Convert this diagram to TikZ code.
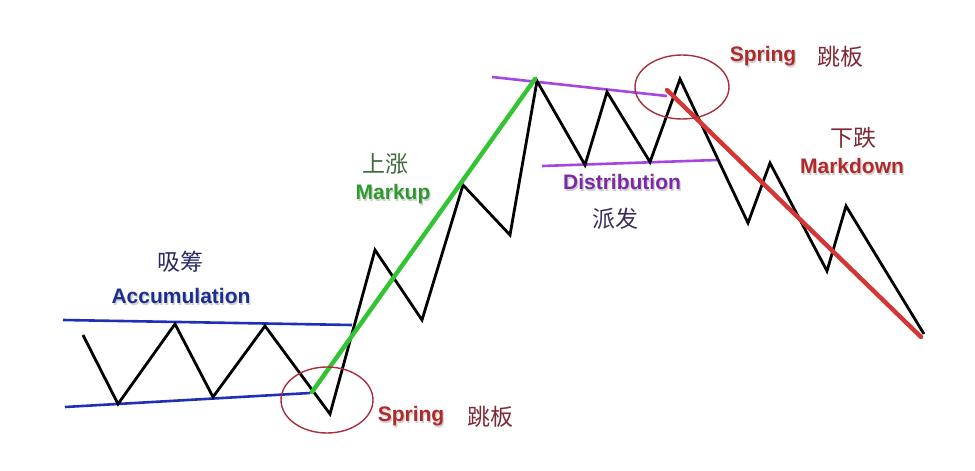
\documentclass[tikz,border=0pt]{standalone}
\usepackage{fontspec}
\setmainfont{Liberation Sans}
\newfontfamily\cjk{Noto Sans CJK SC}
\definecolor{accblue}{HTML}{1C2F8F}
\definecolor{lineblue}{HTML}{1F2FB8}
\definecolor{mkgreen}{HTML}{2E9A2E}
\definecolor{linegreen}{HTML}{33C433}
\definecolor{dpurple}{HTML}{7B2AA6}
\definecolor{linepurple}{HTML}{A645E0}
\definecolor{dred}{HTML}{B02A2A}
\definecolor{linered}{HTML}{D43535}
\definecolor{circred}{HTML}{A8303C}
\definecolor{cjkblue}{HTML}{2A2A66}
\definecolor{cjkgreen}{HTML}{3E6A3E}
\definecolor{cjkpurple}{HTML}{3E2E5E}
\definecolor{cjkred}{HTML}{7E2A36}
\newcommand{\shadtxt}[1]{\makebox[0pt][l]{\hspace{1.3pt}\raisebox{-1.3pt}{\color{black!18}#1}}#1}
\begin{document}
\begin{tikzpicture}[x=1pt,y=-1pt,
  price/.style={draw=black,line width=2.8pt,line join=miter},
  trend/.style={line width=4.4pt,line cap=round},
  chan/.style={line width=2.6pt},
  ring/.style={draw=circred,line width=1.4pt},
  en/.style={font=\fontsize{21}{21}\selectfont\bfseries,inner sep=0pt},
  zh/.style={font=\cjk\fontsize{23}{23}\selectfont,inner sep=0pt}]
\useasboundingbox (0,0) rectangle (975,471);
\fill[white] (0,0) rectangle (975,471);
% price path coordinates
\coordinate (p0) at (83,335);
\coordinate (p1) at (118,404);
\coordinate (p2) at (175,324);
\coordinate (p3) at (213,397);
\coordinate (p4) at (265,326);
\coordinate (p5) at (330,414);
\coordinate (p6) at (375,250);
\coordinate (p7) at (422,320);
\coordinate (p8) at (463,185);
\coordinate (p9) at (510,235);
\coordinate (p10) at (537,81);
\coordinate (p11) at (585,165);
\coordinate (p12) at (607,92);
\coordinate (p13) at (650,162);
\coordinate (p14) at (680,79);
\coordinate (p15) at (748,223);
\coordinate (p16) at (770,163);
\coordinate (p17) at (827,271);
\coordinate (p18) at (846,206);
\coordinate (p19) at (924,334);
% channel and trend end points
\coordinate (at1) at (63,320);
\coordinate (at2) at (352,325);
\coordinate (ab1) at (65,407);
\coordinate (ab2) at (310,393);
\coordinate (dt1) at (492,77);
\coordinate (dt2) at (667,96);
\coordinate (db1) at (542,166);
\coordinate (db2) at (717,160);
\coordinate (g1) at (312,392);
\coordinate (g2) at (535,79);
\coordinate (r1) at (667,90);
\coordinate (r2) at (921,337);
% channels
\draw[chan,lineblue] (at1) -- (at2);
\draw[chan,lineblue] (ab1) -- (ab2);
\draw[chan,linepurple] (dt1) -- (dt2);
\draw[chan,linepurple] (db1) -- (db2);
% price
\draw[price] (p0) -- (p1) -- (p2) -- (p3) -- (p4) -- (p5) -- (p6) -- (p7) -- (p8) -- (p9) -- (p10) -- (p11) -- (p12) -- (p13) -- (p14) -- (p15) -- (p16) -- (p17) -- (p18) -- (p19);
% trends
\draw[trend,linegreen] (g1) -- (g2);
\draw[trend,linered] (r1) -- (r2);
% circles
\draw[ring] (327,400) ellipse [x radius=46, y radius=33];
\draw[ring] (682,87) ellipse [x radius=47, y radius=32];
% labels
\node[zh,text=cjkblue] (accz) at (180,262) {吸筹};
\node[en,text=accblue] (acc) at (181,297) {\shadtxt{Accumulation}};
\node[zh,text=cjkgreen] (mkz) at (385,164) {上涨};
\node[en,text=mkgreen] (mk) at (393,195) {\shadtxt{Markup}};
\node[en,text=dpurple] (dist) at (622,183) {\shadtxt{Distribution}};
\node[zh,text=cjkpurple] (distz) at (615,219) {派发};
\node[en,text=dred] (spt) at (763,57) {\shadtxt{Spring}};
\node[zh,text=cjkred] (sptz) at (840,57) {跳板};
\node[zh,text=cjkred] (mdz) at (853,138) {下跌};
\node[en,text=dred] (md) at (852,167) {\shadtxt{Markdown}};
\node[en,text=dred] (spb) at (411,417) {\shadtxt{Spring}};
\node[zh,text=cjkred] (spbz) at (490,417) {跳板};
\end{tikzpicture}
\end{document}
